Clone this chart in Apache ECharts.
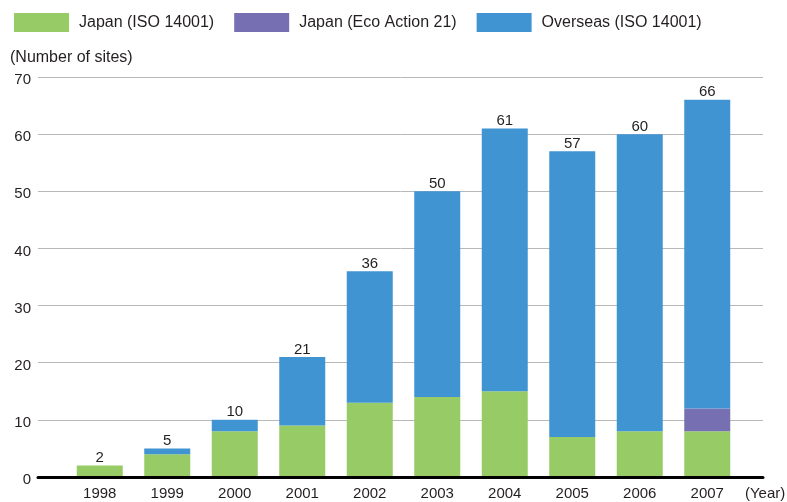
<!DOCTYPE html>
<html>
<head>
<meta charset="utf-8">
<script src="https://cdn.jsdelivr.net/npm/echarts@6/dist/echarts.min.js"></script>
<style>
  html, body { margin: 0; padding: 0; background: #fff; }
  #chart { width: 787px; height: 502px; }
</style>
</head>
<body>
<div id="chart"></div>
<script>
// 年份
var years = ["1998", "1999", "2000", "2001", "2002", "2003", "2004", "2005", "2006", "2007"];
// 日本 ISO 14001
var japanIso = [2, 4, 8, 9, 13, 14, 15, 7, 8, 8];
// 日本 Eco Action 21
var japanEco = [0, 0, 0, 0, 0, 0, 0, 0, 0, 4];
// 海外 ISO 14001
var overseasIso = [0, 1, 2, 12, 23, 36, 46, 50, 52, 54];
// 合计（柱顶标签）
var totals = [2, 5, 10, 21, 36, 50, 61, 57, 60, 66];

var textColor = "#231f20";
var fontName = "Liberation Sans, Arial, Helvetica, sans-serif";

var myChart = echarts.init(document.getElementById("chart"));

var option = {
  backgroundColor: "#fff",
  animation: false,
  textStyle: { fontFamily: fontName, color: textColor },
  legend: {
    left: 14,
    top: 13,
    padding: 0,
    itemWidth: 55,
    itemHeight: 19,
    itemGap: 20,
    icon: "rect",
    textStyle: { fontSize: 16, color: textColor, padding: [0, 0, 0, 5] },
    data: ["Japan (ISO 14001)", "Japan (Eco Action 21)", "Overseas (ISO 14001)"]
  },
  grid: [
    // 网格线所在区域（更宽）
    { left: 38, right: 24, top: 77, bottom: 25 },
    // 柱子所在区域
    { left: 66, right: 46, top: 77, bottom: 25 }
  ],
  xAxis: [
    {
      gridIndex: 0,
      type: "value",
      min: 0,
      max: 1,
      z: 10,
      axisLine: { show: true, lineStyle: { color: "#000", width: 3 } },
      axisTick: { show: false },
      axisLabel: { show: false },
      splitLine: { show: false }
    },
    {
      gridIndex: 1,
      type: "category",
      data: years,
      axisLine: { show: false },
      axisTick: { show: false },
      axisLabel: { fontSize: 15, color: textColor, margin: 9 }
    }
  ],
  yAxis: [
    {
      gridIndex: 0,
      type: "value",
      min: 0,
      max: 70,
      interval: 10,
      axisLine: { show: false },
      axisTick: { show: false },
      axisLabel: {
        margin: 7,
        formatter: "{a|{value}}",
        rich: { a: { fontSize: 15, color: textColor, padding: [6, 0, 0, 0] } }
      },
      splitLine: { lineStyle: { color: "#b8b8b8", width: 1 } }
    },
    {
      gridIndex: 1,
      type: "value",
      min: 0,
      max: 70,
      show: false
    }
  ],
  graphic: [
    {
      type: "text",
      left: 10,
      top: 50,
      style: { text: "(Number of sites)", fontSize: 16, fill: textColor, fontFamily: fontName }
    },
    {
      type: "text",
      left: 745,
      top: 486,
      style: { text: "(Year)", fontSize: 15, fill: textColor, fontFamily: fontName }
    }
  ],
  series: [
    {
      name: "Japan (ISO 14001)",
      type: "bar",
      stack: "total",
      xAxisIndex: 1,
      yAxisIndex: 1,
      barWidth: 46,
      data: japanIso,
      itemStyle: { color: "#97cb66" }
    },
    {
      name: "Japan (Eco Action 21)",
      type: "bar",
      stack: "total",
      xAxisIndex: 1,
      yAxisIndex: 1,
      barWidth: 46,
      data: japanEco,
      itemStyle: { color: "#7670b3" }
    },
    {
      name: "Overseas (ISO 14001)",
      type: "bar",
      stack: "total",
      xAxisIndex: 1,
      yAxisIndex: 1,
      barWidth: 46,
      data: overseasIso,
      itemStyle: { color: "#4194d2" },
      label: {
        show: true,
        position: "top",
        distance: 0,
        fontSize: 15,
        color: textColor,
        formatter: function (p) {
          return totals[p.dataIndex];
        }
      }
    }
  ]
};

myChart.setOption(option, true);
window.addEventListener("resize", function () {
  myChart.resize();
});
</script>
</body>
</html>
